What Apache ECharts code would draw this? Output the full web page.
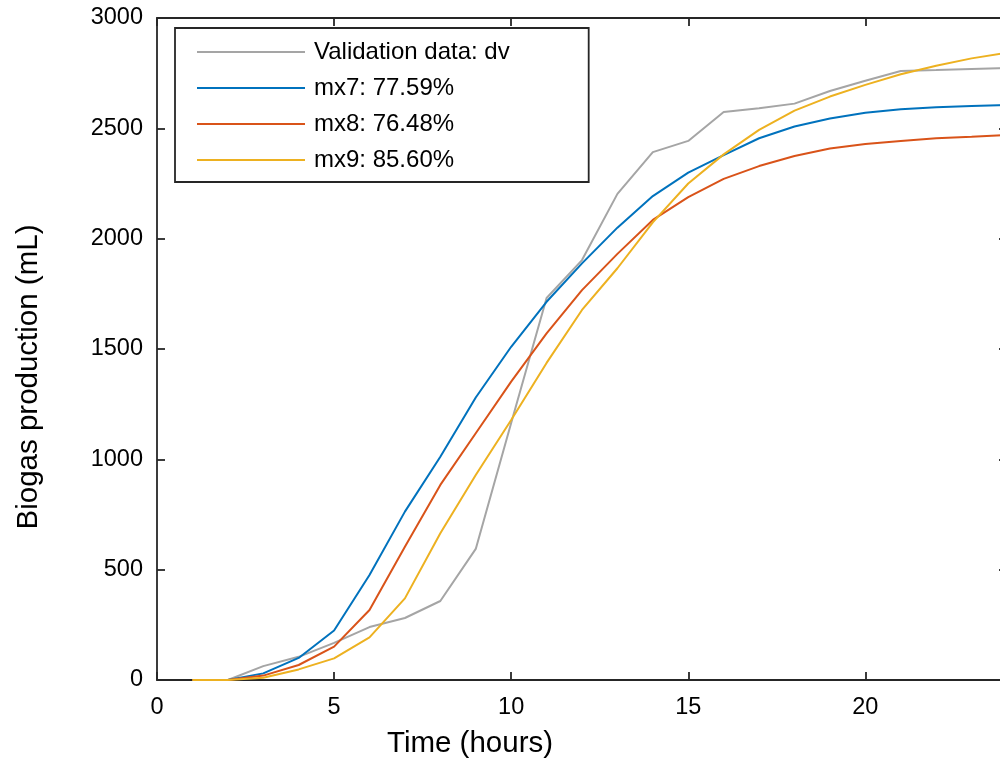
<!DOCTYPE html>
<html>
<head>
<meta charset="utf-8">
<script src="https://cdn.jsdelivr.net/npm/echarts@6/dist/echarts.min.js"></script>
<style>
  html, body { margin: 0; padding: 0; background: #ffffff; overflow: hidden; }
  /* the drawing surface is a little wider than the window: the plot box runs past its right edge */
  #chart { width: 1007px; height: 760px; }
</style>
</head>
<body>
<div id="chart"></div>
<script>
// Time axis (hours)
const hours = [1, 2, 3, 4, 5, 6, 7, 8, 9, 10, 11, 12, 13, 14, 15, 16, 17, 18, 19, 20, 21, 22, 23, 24];

// Cumulative biogas production (mL)
const validationDv = [0, 0, 63, 105, 168, 240, 281, 358, 594, 1165, 1731, 1903, 2203, 2392, 2443, 2574, 2591, 2612, 2669, 2716, 2760, 2764, 2769, 2773];
const mx7 = [0, 0, 30, 100, 224, 476, 763, 1012, 1280, 1510, 1714, 1888, 2050, 2193, 2299, 2379, 2455, 2508, 2545, 2571, 2586, 2595, 2601, 2606];
const mx8 = [0, 0, 20, 68, 151, 317, 604, 884, 1118, 1352, 1571, 1767, 1931, 2085, 2188, 2271, 2329, 2375, 2409, 2429, 2443, 2455, 2462, 2470];
const mx9 = [0, 0, 10, 48, 98, 193, 370, 665, 929, 1178, 1437, 1677, 1866, 2074, 2250, 2382, 2493, 2580, 2644, 2697, 2745, 2784, 2817, 2843];

const seriesNames = ['Validation data: dv', 'mx7: 77.59%', 'mx8: 76.48%', 'mx9: 85.60%'];
const seriesData = [validationDv, mx7, mx8, mx9];
const seriesColors = ['#A5A5A5', '#0072BD', '#D95319', '#EDB120'];

const xTicks = { min: 0, max: 24, interval: 5 };
const yTicks = { min: 0, max: 3000, interval: 500 };

const FONT = 'Liberation Sans, Arial, Helvetica, sans-serif';
const AXIS_COLOR = '#262626';

function pairs(values) {
  return hours.map((h, i) => [h, values[i]]);
}

const chart = echarts.init(document.getElementById('chart'), null, { renderer: 'canvas' });

const baseAxisLine = { show: true, onZero: false, lineStyle: { color: AXIS_COLOR, width: 1.8 } };
const baseTick = { show: true, inside: true, length: 8, lineStyle: { color: AXIS_COLOR, width: 1.8 } };
const plainNumber = (v) => String(v);

chart.setOption({
  backgroundColor: '#ffffff',
  animation: false,
  grid: { left: 157, top: 18, right: 0, bottom: 80, containLabel: false },
  legend: {
    orient: 'vertical',
    left: 175,
    top: 28,
    data: seriesNames,
    icon: 'rect',
    itemWidth: 108,
    itemHeight: 2,
    itemGap: 12,
    padding: [12, 79, 10, 22],
    borderColor: AXIS_COLOR,
    borderWidth: 1.8,
    backgroundColor: '#ffffff',
    textStyle: { fontFamily: FONT, fontSize: 24, color: '#000000', lineHeight: 24, padding: [0, 0, 0, 4] }
  },
  xAxis: [
    {
      type: 'value', position: 'bottom',
      min: xTicks.min, max: xTicks.max, interval: xTicks.interval,
      axisLine: baseAxisLine, axisTick: baseTick,
      axisLabel: { show: true, margin: 16, showMaxLabel: false, formatter: plainNumber, fontFamily: FONT, fontSize: 23.5, color: '#000000' },
      splitLine: { show: false }
    },
    {
      type: 'value', position: 'top',
      min: xTicks.min, max: xTicks.max, interval: xTicks.interval,
      axisLine: baseAxisLine, axisTick: baseTick,
      axisLabel: { show: false }, splitLine: { show: false }
    }
  ],
  yAxis: [
    {
      type: 'value', position: 'left',
      min: yTicks.min, max: yTicks.max, interval: yTicks.interval,
      axisLine: baseAxisLine, axisTick: baseTick,
      axisLabel: { show: true, margin: 14, formatter: plainNumber, fontFamily: FONT, fontSize: 23.5, color: '#000000' },
      splitLine: { show: false }
    },
    {
      type: 'value', position: 'right',
      min: yTicks.min, max: yTicks.max, interval: yTicks.interval,
      axisLine: baseAxisLine, axisTick: baseTick,
      axisLabel: { show: false }, splitLine: { show: false }
    }
  ],
  graphic: [
    {
      type: 'text', x: 470, y: 744,
      style: { text: 'Time (hours)', fontFamily: FONT, fontSize: 29.5, fill: '#000000', align: 'center', verticalAlign: 'middle' }
    },
    {
      type: 'text', x: 29, y: 377, rotation: Math.PI / 2,
      style: { text: 'Biogas production (mL)', fontFamily: FONT, fontSize: 29.5, fill: '#000000', align: 'center', verticalAlign: 'middle' }
    }
  ],
  series: seriesNames.map((name, i) => ({
    name: name,
    type: 'line',
    xAxisIndex: 0,
    yAxisIndex: 0,
    data: pairs(seriesData[i]),
    showSymbol: false,
    symbol: 'none',
    smooth: false,
    color: seriesColors[i],
    lineStyle: { color: seriesColors[i], width: 2 },
    z: 2 + i
  }))
});
</script>
</body>
</html>
